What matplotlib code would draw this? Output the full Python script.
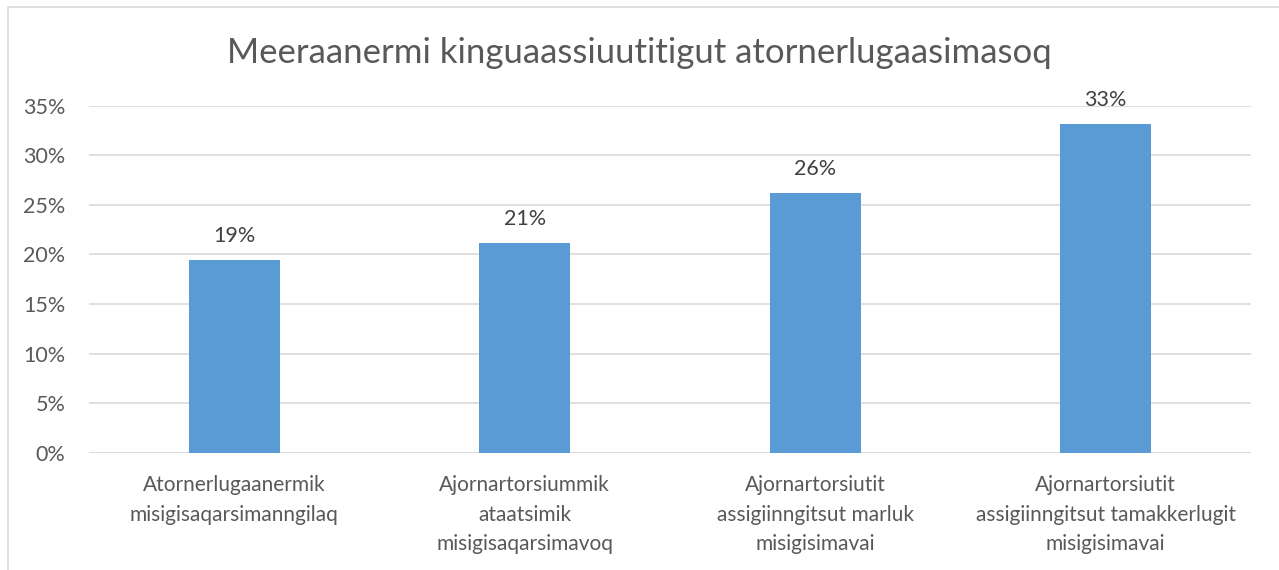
import matplotlib.pyplot as plt
from matplotlib.patches import Rectangle
from matplotlib.ticker import PercentFormatter

plt.rcParams['font.family'] = ['Lato', 'DejaVu Sans']

title = "Meeraanermi kinguaassiuutitigut atornerlugaasimasoq"
categories = [
    "Atornerlugaanermik\nmisigisaqarsimanngilaq",
    "Ajornartorsiummik\nataatsimik\nmisigisaqarsimavoq",
    "Ajornartorsiutit\nassigiinngitsut marluk\nmisigisimavai",
    "Ajornartorsiutit\nassigiinngitsut tamakkerlugit\nmisigisimavai",
]
shares = [0.194, 0.212, 0.262, 0.332]
yticks = [0, 0.05, 0.10, 0.15, 0.20, 0.25, 0.30, 0.35]

text_col = "#595959"
bar_col = "#5B9BD5"
grid_col = "#D9D9D9"

fig = plt.figure(figsize=(12.79, 5.70), dpi=100)
ax = fig.add_axes([0.0696, 0.2058, 0.9084, 0.6088])

x = range(len(categories))
ax.bar(x, shares, width=0.313, color=bar_col, zorder=3)
for xi, v in zip(x, shares):
    ax.annotate(f"{v * 100:.0f}%", (xi, v), xytext=(0, 10),
                textcoords="offset points", ha="center", va="bottom",
                fontsize=15.5, color="#404040")

ax.set_xlim(-0.5, len(categories) - 0.5)
ax.set_ylim(0, 0.35)
ax.set_yticks(yticks)
ax.yaxis.set_major_formatter(PercentFormatter(1.0, decimals=0))
ax.set_xticks(list(x))
ax.set_xticklabels(categories, fontsize=15, color=text_col, linespacing=1.6)
ax.tick_params(axis="y", labelsize=15.5, labelcolor=text_col, length=0, pad=17)
ax.tick_params(axis="x", length=0, pad=16)
ax.grid(axis="y", color=grid_col, linewidth=1.2, zorder=0)
for s in ax.spines.values():
    s.set_visible(False)
ax.axhline(0, color=grid_col, linewidth=1.2, zorder=1)

fig.text(0.5, 0.907, title, ha="center", va="center", fontsize=25, color=text_col)

# chart frame
fig.patches.append(Rectangle((8 / 1279, -0.1), 1.2, 1.1 - 7 / 570,
                             transform=fig.transFigure, fill=False,
                             edgecolor=grid_col, linewidth=1.2))

fig.savefig("out.png", dpi=100)
